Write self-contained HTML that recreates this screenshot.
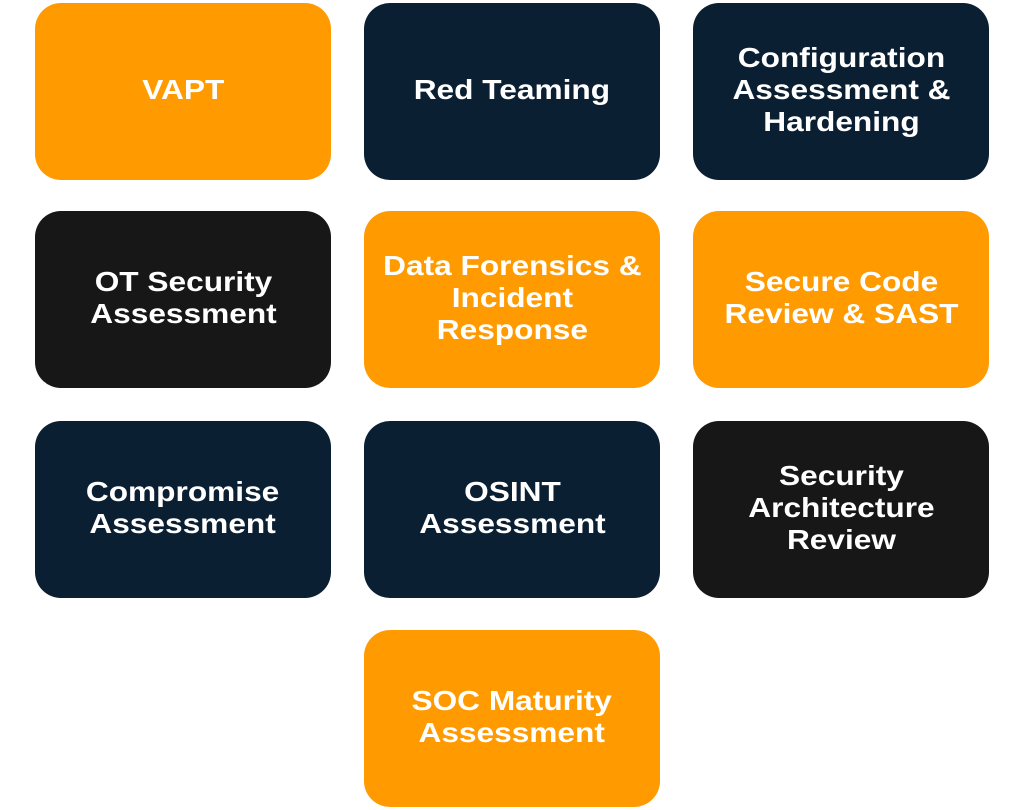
<!DOCTYPE html>
<html><head><style>
body{margin:0;width:1024px;height:810px;background:#fff;position:relative;overflow:hidden}
.b{position:absolute;width:296px;height:177px;border-radius:26px;display:flex;align-items:center;justify-content:center;text-align:center;color:#fff;font-family:"Liberation Sans",sans-serif;font-weight:bold;font-size:28px;line-height:32px}
.b span{display:block;transform:scaleX(1.13);margin-top:-4px;white-space:nowrap}
.o{background:#FF9A00}.n{background:#0B1F33}.k{background:#171717}
</style></head><body>
<div class="b o" style="left:35px;top:3px"><span>VAPT</span></div>
<div class="b n" style="left:364px;top:3px"><span>Red Teaming</span></div>
<div class="b n" style="left:693px;top:3px"><span>Configuration<br>Assessment &amp;<br>Hardening</span></div>
<div class="b k" style="left:35px;top:211px"><span>OT Security<br>Assessment</span></div>
<div class="b o" style="left:364px;top:211px"><span>Data Forensics &amp;<br>Incident<br>Response</span></div>
<div class="b o" style="left:693px;top:211px"><span>Secure Code<br>Review &amp; SAST</span></div>
<div class="b n" style="left:35px;top:421px"><span>Compromise<br>Assessment</span></div>
<div class="b n" style="left:364px;top:421px"><span>OSINT<br>Assessment</span></div>
<div class="b k" style="left:693px;top:421px"><span>Security<br>Architecture<br>Review</span></div>
<div class="b o" style="left:364px;top:630px"><span>SOC Maturity<br>Assessment</span></div>
</body></html>
